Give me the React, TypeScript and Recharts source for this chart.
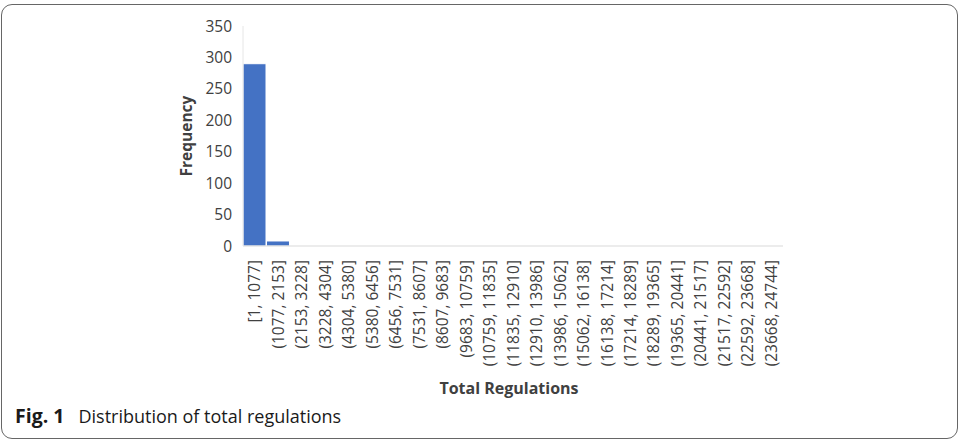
import React from "react";
import { BarChart, Bar, XAxis, YAxis, Label } from "recharts";

const BINS = [
  "[1, 1077]",
  "(1077, 2153]",
  "(2153, 3228]",
  "(3228, 4304]",
  "(4304, 5380]",
  "(5380, 6456]",
  "(6456, 7531]",
  "(7531, 8607]",
  "(8607, 9683]",
  "(9683, 10759]",
  "(10759, 11835]",
  "(11835, 12910]",
  "(12910, 13986]",
  "(13986, 15062]",
  "(15062, 16138]",
  "(16138, 17214]",
  "(17214, 18289]",
  "(18289, 19365]",
  "(19365, 20441]",
  "(20441, 21517]",
  "(21517, 22592]",
  "(22592, 23668]",
  "(23668, 24744]",
];

const FREQUENCIES = [290, 8, 0, 0, 0, 0, 0, 0, 0, 0, 0, 0, 0, 0, 0, 0, 0, 0, 0, 0, 0, 0, 0];

const Y_TICKS = [0, 50, 100, 150, 200, 250, 300, 350];

const data = BINS.map((bin, i) => ({ bin, freq: FREQUENCIES[i] }));

const FONT = "'Open Sans', 'Noto Sans', sans-serif";

// vertical bin labels, reading bottom to top
const BinTick = (props: any) => {
  const { x, y, payload } = props;
  return (
    <g transform={`translate(${x},${y + 6})`}>
      <text
        transform="rotate(-90)"
        textAnchor="end"
        dy="0.36em"
        fill="#404040"
        fontSize={15.5}
        fontFamily={FONT}
      >
        {payload.value}
      </text>
    </g>
  );
};

export default function App() {
  return (
    <div
      style={{
        position: "absolute",
        left: 0,
        top: 0,
        width: 958,
        height: 439,
        overflow: "hidden",
        background: "#fff",
      }}
    >
      <div
        style={{
          position: "absolute",
          left: 1,
          top: 4,
          width: 957,
          height: 435,
          boxSizing: "border-box",
          border: "1.3px solid #666",
          borderRadius: 11,
        }}
      />
      <div style={{ position: "absolute", left: 0, top: 0 }}>
        <BarChart
          width={958}
          height={380}
          data={data}
          margin={{ top: 26, right: 175, left: 0, bottom: 14 }}
          barCategoryGap={0}
        >
          <XAxis
            dataKey="bin"
            interval={0}
            height={120}
            tick={<BinTick />}
            tickLine={false}
            axisLine={{ stroke: "#d9d9d9", strokeWidth: 1.2 }}
          />
          <YAxis
            width={243}
            domain={[0, 350]}
            ticks={Y_TICKS}
            interval={0}
            tickLine={false}
            axisLine={{ stroke: "#e6e6e6", strokeWidth: 1 }}
            tickMargin={5}
            tick={{ fill: "#404040", fontSize: 15.5, fontFamily: FONT }}
          >
            <Label
              value="Frequency"
              angle={-90}
              position="center"
              dx={65}
              style={{
                fill: "#404040",
                fontSize: 15.5,
                fontWeight: 700,
                fontFamily: FONT,
              }}
            />
          </YAxis>
          <Bar
            dataKey="freq"
            fill="#4472C4"
            stroke="#ffffff"
            strokeWidth={1}
            isAnimationActive={false}
          />
        </BarChart>
      </div>
      <div
        style={{
          position: "absolute",
          left: 0,
          width: 1018,
          top: 377,
          textAlign: "center",
          fontFamily: FONT,
          fontWeight: 700,
          fontSize: 16,
          color: "#404040",
        }}
      >
        Total Regulations
      </div>
      <div
        style={{
          position: "absolute",
          left: 15,
          top: 402,
          fontFamily: FONT,
          fontSize: 18,
          color: "#1a1a1a",
          whiteSpace: "nowrap",
        }}
      >
        <span style={{ fontWeight: 700, fontSize: 19.5 }}>Fig. 1</span>
        <span style={{ marginLeft: 14 }}>Distribution of total regulations</span>
      </div>
    </div>
  );
}
